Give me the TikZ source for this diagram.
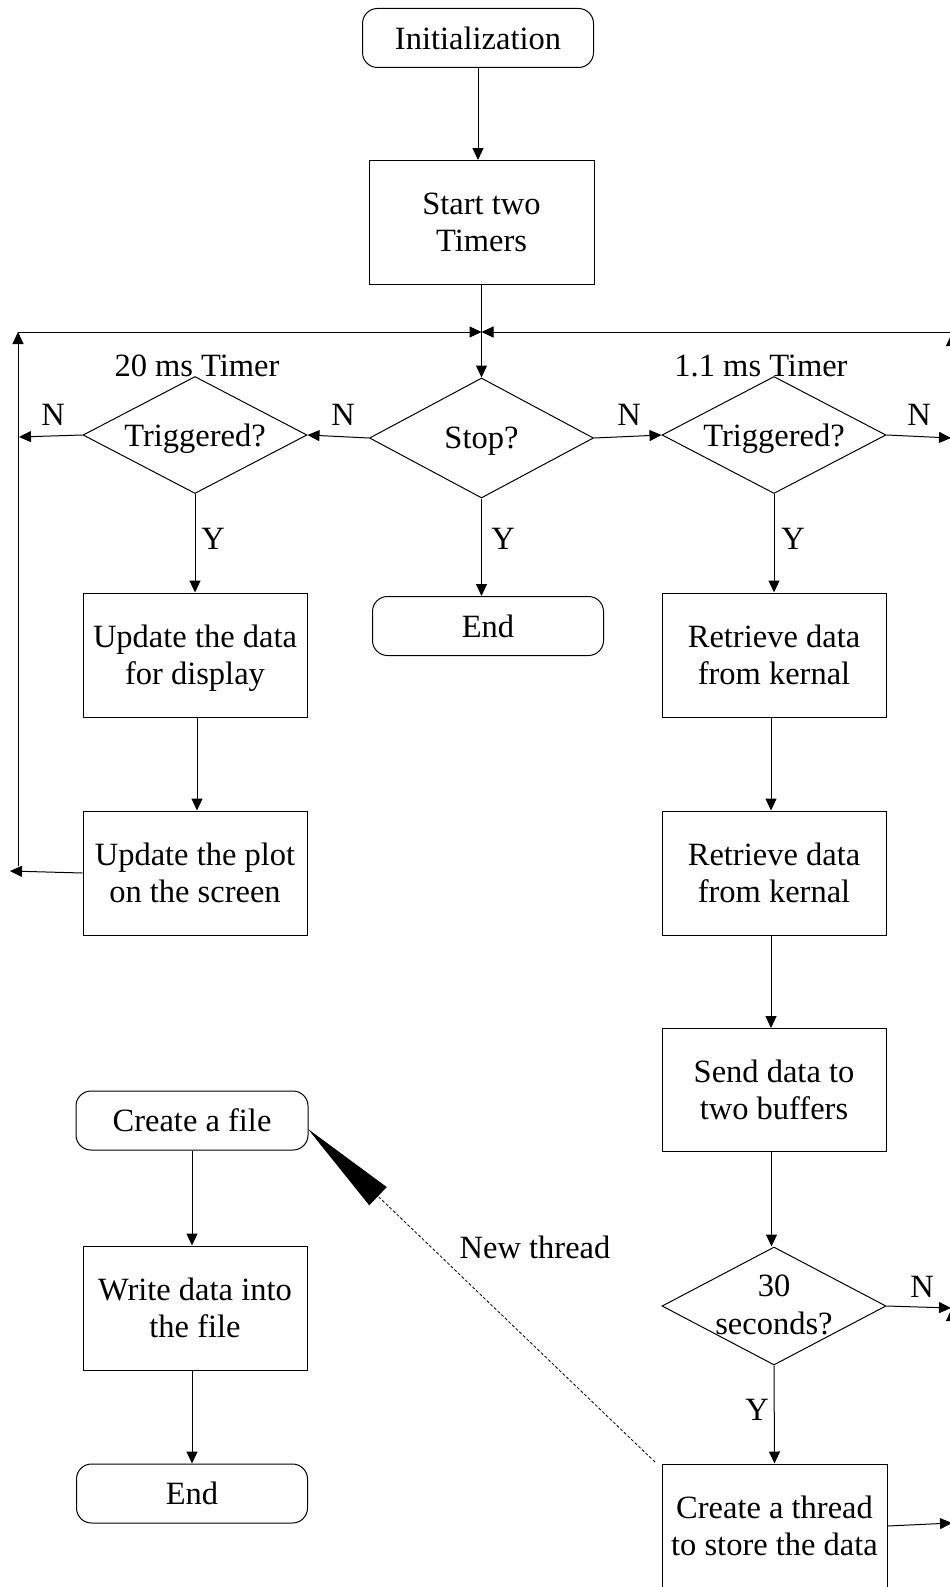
\documentclass[tikz,border=0pt]{standalone}
\usepackage{fontspec}
\setmainfont{Liberation Serif}
\usetikzlibrary{shapes.geometric,arrows.meta}
\begin{document}
\begin{tikzpicture}[x=1pt,y=-1pt,
  every node/.style={font=\fontsize{32.5}{36.5}\selectfont},
  proc/.style={draw, line width=1pt, minimum width=224pt, minimum height=124pt, align=center, inner sep=0pt},
  term/.style={draw, line width=1pt, rounded corners=15pt, minimum width=231pt, minimum height=59pt, inner sep=0pt},
  dec/.style={draw, line width=1pt, shape=diamond, minimum width=224pt, minimum height=118pt, inner sep=0pt},
  lbl/.style={align=center, inner sep=0pt},
  flow/.style={line width=1pt, -{Triangle[length=12pt,width=11pt]}},
  spawn/.style={line width=0.8pt, dash pattern=on 3pt off 2pt, -{Triangle[length=97pt,width=25pt]}}
]
\useasboundingbox (0,0) rectangle (950,1587);
\clip (0,0) rectangle (950,1587);

% ---- main line ----
\node[term] (init) at (478,38) {Initialization};
\node[proc, minimum width=225pt] (start) at (481.5,222.5) {Start two\\Timers};
\node[dec, minimum height=120pt] (stop) at (481.5,438) {};
\node[lbl, text depth=0pt] (stoptxt) at (stop) {Stop?};
\node[term] (end1) at (488,626) {End};

% ---- 20 ms timer branch ----
\node[dec, minimum height=117pt] (tl) at (195,435) {};
\node[lbl, text depth=0pt] (tltxt) at (tl) {Triggered?};
\node[lbl] (t20) at (197,366) {20 ms Timer};
\node[proc] (upd) at (195,655) {Update the data\\for \smash{display}};
\node[proc] (plot) at (195,873) {Update the plot\\on the screen};

% ---- 1.1 ms timer branch ----
\node[dec, minimum height=117pt] (tr) at (774,435) {};
\node[lbl, text depth=0pt] (trtxt) at (tr) {Triggered?};
\node[lbl] (t11) at (761,366) {1.1 ms Timer};
\node[proc] (ret1) at (774,655) {Retrieve data\\from kernal};
\node[proc] (ret2) at (774,873) {Retrieve data\\from kernal};
\node[proc, minimum height=123pt] (send) at (774,1090) {Send data to\\two buffers};
\node[dec] (sec) at (774,1306) {};
\node[lbl, font=\fontsize{32.5}{38}\selectfont] (sectxt) at (774,1305) {30\\seconds?};
\node[proc, minimum width=225pt] (thread) at (774.5,1526) {Create a thread\\to store the data};

% ---- storage thread ----
\node[term, minimum width=232pt] (file) at (192,1120.5) {Create a file};
\node[proc] (write) at (195,1308) {Write data into\\the file};
\node[term] (end2) at (192,1493.5) {End};

% ---- branch labels ----
\node[lbl] (n1) at (53,415) {N};
\node[lbl] (n2) at (343,415) {N};
\node[lbl] (n3) at (629,415) {N};
\node[lbl] (n4) at (919,415) {N};
\node[lbl] (n5) at (922,1287) {N};
\node[lbl] (y1) at (213,539) {Y};
\node[lbl] (y2) at (503,539) {Y};
\node[lbl] (y3) at (793,539) {Y};
\node[lbl] (y4) at (757,1410) {Y};
\node[lbl] (newthr) at (535,1247) {New thread};

% ---- free ends of the loop-back lines ----
\coordinate (jn) at (481.5,332);
\coordinate (lcorner) at (18,332);
\coordinate (rcorner) at (951.5,332);
\coordinate (lbot) at (18,866);
\coordinate (lout) at (10,871);
\coordinate (nlout) at (19,437);
\coordinate (nrout) at (951,438);
\coordinate (secout) at (951,1308);
\coordinate (throut) at (952,1523);
\coordinate (rlow) at (951.5,1523);
\coordinate (rlowtop) at (951.5,1309);
\coordinate (rhigh) at (951.5,1300);
\coordinate (rhightop) at (951.5,334);
\coordinate (spawnstart) at (655,1462);
\coordinate (spawntip) at (308,1129);

% ---- connectors ----
\draw[flow] (init.south) -- (init.south |- start.north);
\draw[flow] (start.south) -- (stop.north);
\draw[flow] (lcorner) -- (jn);
\draw[flow] (rcorner) -- (jn);
\draw[flow] (lbot) -- (lcorner);
\draw[flow] (rlow) -- (rlowtop);
\draw[flow] (rhigh) -- (rhightop);

\draw[flow] (tl.west) -- (nlout);
\draw[flow] (stop.west) -- (tl.east);
\draw[flow] (stop.east) -- (tr.west);
\draw[flow] (tr.east) -- (nrout);

\draw[flow] (tl.south) -- (upd.north);
\draw[flow] (stop.south) -- (stop.south |- end1.north);
\draw[flow] (tr.south) -- (ret1.north);

\draw[flow] ([xshift=2pt]upd.south) -- ([xshift=2pt]plot.north);
\draw[flow] (plot.west) -- (lout);

\draw[flow] ([xshift=-3pt]ret1.south) -- ([xshift=-3pt]ret2.north);
\draw[flow] ([xshift=-3pt]ret2.south) -- ([xshift=-3pt]send.north);
\draw[flow] ([xshift=-2.5pt]send.south) -- ([xshift=-2.5pt]sec.north);
\draw[flow] (sec.east) -- (secout);
\draw[flow] (sec.south) -- (thread.north);
\draw[flow] (thread.east) -- (throut);

\draw[flow] (file.south) -- (file.south |- write.north);
\draw[flow] (end2.north |- write.south) -- (end2.north);

\draw[spawn] (spawnstart) -- (spawntip);
\end{tikzpicture}
\end{document}
